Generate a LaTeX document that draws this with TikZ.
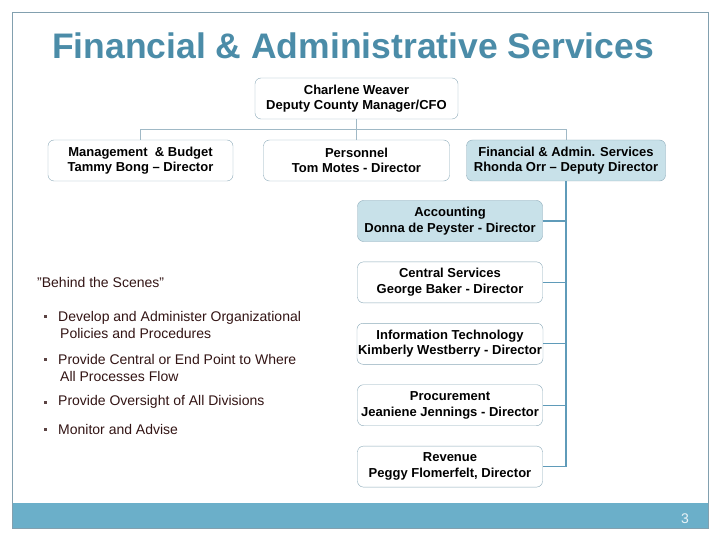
\documentclass[tikz,border=0pt]{standalone}
\usepackage{fontspec}
\setmainfont{Liberation Sans}
\usepackage{tikz}
\usetikzlibrary{positioning}
\definecolor{fatitle}{RGB}{75,140,168}
\definecolor{faframe}{RGB}{130,160,175}
\definecolor{faband}{RGB}{107,175,201}
\definecolor{faborder}{RGB}{140,170,185}
\definecolor{falight}{RGB}{200,225,233}
\definecolor{falink}{RGB}{160,185,198}
\definecolor{fatrunk}{RGB}{95,155,185}
\definecolor{fatext}{RGB}{50,20,20}

\begin{document}
\begin{tikzpicture}[x=1pt, y=-1pt, node distance=20pt,
  unit/.style={rectangle, rounded corners=6pt, draw=faborder, fill=white, minimum width=185pt, minimum height=41pt, inner sep=1pt, align=center, font=\fontsize{13}{15.5}\selectfont\bfseries},
  hilite/.style={unit, fill=falight},
  link/.style={draw=falink, line width=0.8pt},
  trunk/.style={draw=fatrunk, line width=1.1pt},
  item/.style={anchor=west, inner sep=0pt, align=left, text=fatext, font=\fontsize{14}{17}\selectfont},
  bul/.style={rectangle, fill=fatext!80, minimum size=3pt, inner sep=0pt}
]
\useasboundingbox (0,0) rectangle (720,540);
\fill[faband] (12,503) rectangle (708,528);
\draw[faframe, line width=0.8pt] (12,12) rectangle (708,528);
\node[text=fatitle, font=\fontsize{35.5}{40}\selectfont\bfseries] (title) at (353,46) {Financial \& Administrative Services};
\node[text=white!85!faband, font=\fontsize{14}{16}\selectfont] (pg) at (685,519) {3};

% org chart
\node[unit, minimum width=203pt] (cw) at (356.5,98.5) {Charlene Weaver\\Deputy County Manager/CFO};
\node[unit] (mb) at (140.5,160.5) {Management\ \ \& Budget\\Tammy Bong -- Director};
\node[unit, minimum width=186pt] (pers) at (356.5,160.5) {Personnel\\Tom Motes - Director};
\node[hilite, minimum width=199pt] (fa) at (566,160.5) {Financial \& Admin. Services\\Rhonda Orr -- Deputy Director};
\node[hilite] (acc) at (450,221) {Accounting\\Donna de Peyster - Director};
\node[unit, below=of acc] (cs) {Central Services\\George Baker - Director};
\node[unit, below=of cs] (it) {Information Technology\\Kimberly Westberry - Director};
\node[unit, below=of it] (proc) {Procurement\\Jeaniene Jennings - Director};
\node[unit, below=of proc] (rev) {Revenue\\Peggy Flomerfelt, Director};

\draw[link] (cw.south) -- (pers.north);
\draw[link] (mb.north) -- ++(0,-10.5) -| (fa.north);
\draw[trunk] (fa.south) |- (rev.east);
\draw[trunk] (acc.east) -- (acc.east -| fa.south);
\draw[trunk] (cs.east) -- (cs.east -| fa.south);
\draw[trunk] (it.east) -- (it.east -| fa.south);
\draw[trunk] (proc.east) -- (proc.east -| fa.south);

% behind the scenes
\node[item] (bts) at (37,282) {\char34 Behind the Scenes\char34};
\node[bul] (b1) at (45,316) {};
\node[bul] (b2) at (45,359) {};
\node[bul] (b3) at (45,402) {};
\node[bul] (b4) at (45,429) {};
\node[item] (t1) at (58,324.5) {Develop and Administer Organizational\\\hspace*{2pt}Policies and Procedures};
\node[item] (t2) at (58,367.5) {Provide Central or End Point to Where\\\hspace*{2pt}All Processes Flow};
\node[item] (t3) at (58,402) {Provide Oversight of All Divisions};
\node[item] (t4) at (58,429) {Monitor and Advise};
\end{tikzpicture}
\end{document}
